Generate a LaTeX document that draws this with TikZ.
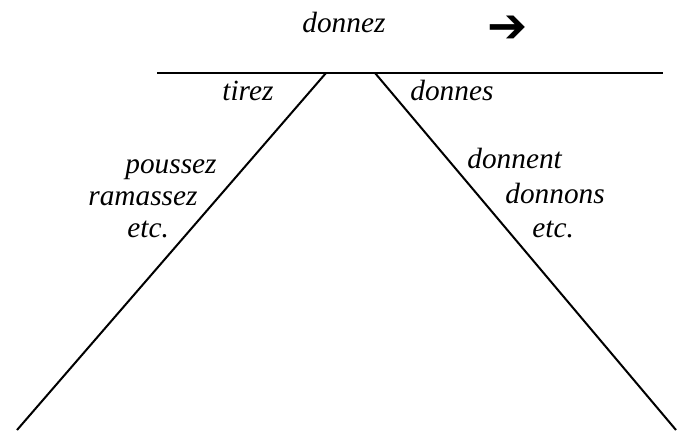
\documentclass[tikz,border=0pt]{standalone}
\usepackage{fontspec}
\setmainfont{Liberation Serif}[ItalicFont={Liberation Serif Italic},BoldFont={Liberation Serif Bold}]
\newfontfamily\symfont{DejaVu Sans}
\begin{document}
\begin{tikzpicture}[x=0.5pt,y=-0.5pt,
  word/.style={anchor=base west,inner sep=0pt,font=\fontsize{14.65}{17}\selectfont\itshape},
  rule/.style={line width=1pt,line cap=butt}]
\useasboundingbox (0,0) rectangle (678,430);
\coordinate (hl) at (157,73);
\coordinate (hr) at (663,73);
\coordinate (lt) at (326,73);
\coordinate (lb) at (17,430);
\coordinate (rt) at (375,73);
\coordinate (rb) at (676,430);
\draw[rule] (hl) -- (hr);
\draw[rule] (lt) -- (lb);
\draw[rule] (rt) -- (rb);
\node[word] (donnez) at (302,32) {donnez};
\node[inner sep=0pt,font=\fontsize{24}{26}\selectfont\symfont] (arrow) at (508,29) {➔};
\node[word] (tirez) at (222,100) {tirez};
\node[word] (donnes) at (410,100) {donnes};
\node[word] (poussez) at (125,173) {poussez};
\node[word] (ramassez) at (88,205) {ramassez};
\node[word] (etcl) at (127,237) {etc.};
\node[word] (donnent) at (467,168) {donnent};
\node[word] (donnons) at (505,203) {donnons};
\node[word] (etcr) at (532,237) {etc.};
\end{tikzpicture}
\end{document}
